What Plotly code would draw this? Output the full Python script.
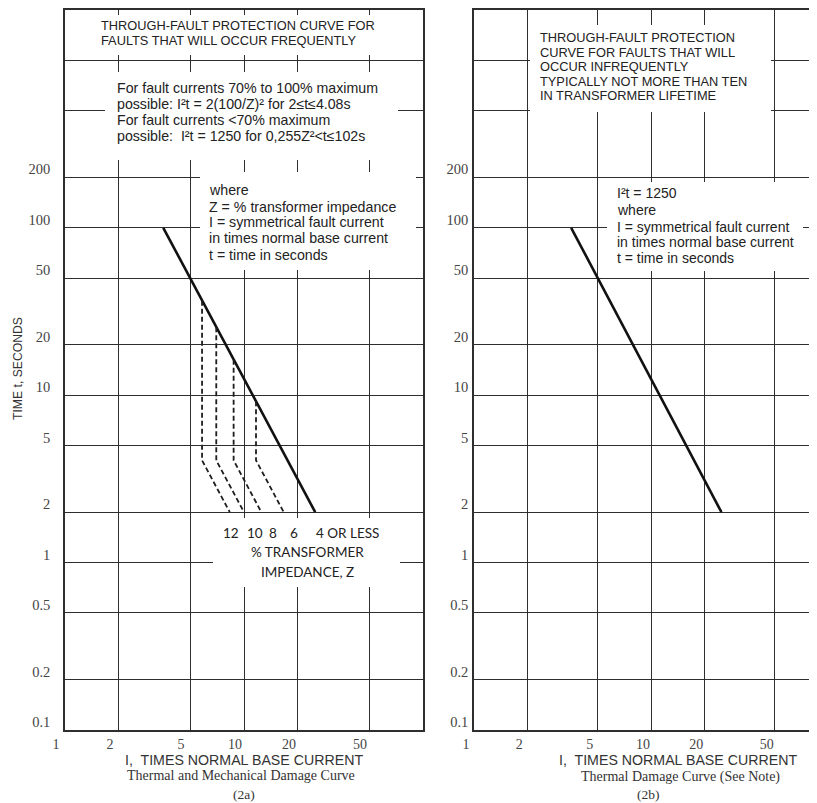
import plotly.graph_objects as go

# ---------------- data ----------------
x_tick_vals = [1, 2, 5, 10, 20, 50, 100]
x_tick_text = ["1", "2", "5", "10", "20", "50", ""]
y_tick_vals = [0.1, 0.2, 0.5, 1, 2, 5, 10, 20, 50, 100, 200, 500, 1000]
y_tick_text = ["0.1", "0.2", "0.5", "1", "2", "5", "10", "20", "50", "100", "200", "", ""]

# I^2 t = 1250 curve (I: times normal base current, t: seconds)
curve_I = [3.54, 25.0]
curve_t = [100.0, 2.0]

# dashed curves per % transformer impedance Z
z_values = [12, 10, 8, 6]
z_I_knee = [5.83, 7.0, 8.75, 11.67]
z_t_top = [36.7, 25.5, 16.3, 9.2]
z_t_knee = [4.08, 4.08, 4.08, 4.08]
z_I_end = [8.33, 10.0, 12.5, 16.67]
z_t_end = [2.0, 2.0, 2.0, 2.0]

left_title_lines = ["THROUGH-FAULT PROTECTION CURVE FOR",
                    "FAULTS THAT WILL OCCUR FREQUENTLY"]
left_formula_lines = ["For fault currents 70% to 100% maximum",
                      "possible: I²t = 2(100/Z)² for 2≤t≤4.08s",
                      "For fault currents <70% maximum",
                      "possible:  I²t = 1250 for 0,255Z²<t≤102s"]
left_where_lines = ["where",
                    "Z = % transformer impedance",
                    "I = symmetrical fault current",
                    "in times normal base current",
                    "t = time in seconds"]
right_title_lines = ["THROUGH-FAULT PROTECTION",
                     "CURVE FOR FAULTS THAT WILL",
                     "OCCUR INFREQUENTLY",
                     "TYPICALLY NOT MORE THAN TEN",
                     "IN TRANSFORMER LIFETIME"]
right_where_lines = ["I²t = 1250",
                     "where",
                     "I = symmetrical fault current",
                     "in times normal base current",
                     "t = time in seconds"]
z_label_text = ["12", "10", "8", "6", "4 OR LESS"]
z_caption_lines = ["% TRANSFORMER", "IMPEDANCE, Z"]

x_title = "I,  TIMES NORMAL BASE CURRENT"
y_title = "TIME t, SECONDS"
left_sub = "Thermal and Mechanical Damage Curve"
right_sub = "Thermal Damage Curve (See Note)"
left_tag = "(2a)"
right_tag = "(2b)"

# ---------------- layout helpers ----------------
# the page body has an 8px margin: the figure starts at (8, 8) of the window
# and runs to the window's right and bottom edges
OFF = 8
W, H = 817 - OFF, 803 - OFF
def px(x):
    return (x - OFF) / W
def py(y):
    return 1 - (y - OFF) / H

GRID = "#2e2e2e"
TXT = "#222222"
SANS = "Liberation Sans, Arial, sans-serif"
SERIF = "Liberation Serif, Times New Roman, serif"

fig = go.Figure()

# solid curves
fig.add_trace(go.Scatter(x=curve_I, y=curve_t, mode="lines",
                         line=dict(color="#111111", width=2.6),
                         xaxis="x", yaxis="y", hoverinfo="skip"))
fig.add_trace(go.Scatter(x=curve_I, y=curve_t, mode="lines",
                         line=dict(color="#111111", width=2.6),
                         xaxis="x2", yaxis="y2", hoverinfo="skip"))
# dashed impedance curves
for i in range(len(z_values)):
    fig.add_trace(go.Scatter(
        x=[z_I_knee[i], z_I_knee[i], z_I_end[i]],
        y=[z_t_top[i], z_t_knee[i], z_t_end[i]],
        mode="lines", line=dict(color="#1e1e1e", width=1.8, dash="5px,3px"),
        xaxis="x", yaxis="y", hoverinfo="skip"))

y_dom = [py(730), py(10)]
axis_common = dict(type="log", showgrid=True, gridcolor=GRID, gridwidth=1.4,
                   showline=True, linecolor=GRID, linewidth=1.5, ticks="",
                   zeroline=False, fixedrange=True, automargin=False)
yfont = dict(family=SERIF, size=14.5, color="#444444")
xfont = dict(family=SERIF, size=14, color="#444444")

right_edge = 817
x2_top = (right_edge - 474) / 177.0  # decades visible in the right panel

fig.update_layout(
    template="none",
    width=W, height=H,
    margin=dict(l=0, r=0, t=0, b=0, pad=0),
    paper_bgcolor="white", plot_bgcolor="white",
    showlegend=False,
    xaxis=dict(axis_common, domain=[px(65), px(423)], range=[0, 2],
               tickmode="array", tickvals=x_tick_vals, ticktext=x_tick_text,
               tickfont=xfont, ticklabelshift=-9, ticklabelstandoff=0,
               mirror=True, anchor="y"),
    yaxis=dict(axis_common, domain=y_dom, range=[-1, 3.301],
               tickmode="array", tickvals=y_tick_vals, ticktext=y_tick_text,
               tickfont=yfont, ticklabelshift=-8, ticklabelstandoff=10,
               mirror=True, anchor="x"),
    xaxis2=dict(axis_common, domain=[px(474), 1.0], range=[0, x2_top],
                tickmode="array", tickvals=x_tick_vals, ticktext=x_tick_text,
                tickfont=xfont, ticklabelshift=-8, ticklabelstandoff=0,
                mirror=True, anchor="y2"),
    yaxis2=dict(axis_common, domain=y_dom, range=[-1, 3.301],
                tickmode="array", tickvals=y_tick_vals, ticktext=y_tick_text,
                tickfont=yfont, ticklabelshift=-8, ticklabelstandoff=1,
                mirror=False, anchor="x2"),
)

# white boxes masking gridlines (they do not overlap any curve)
boxes = [
    (67, 15, 420, 55),    # left title
    (105, 72, 398, 160),  # left formula
    (200, 172, 416, 270), # left where
    (213, 518, 400, 587), # left Z caption
    (530, 25, 771, 112),  # right title
    (607, 182, 803, 271), # right where
]
for (x0, y0, x1, y1) in boxes:
    fig.add_shape(type="rect", xref="paper", yref="paper",
                  x0=px(x0), x1=px(x1), y0=py(y1), y1=py(y0),
                  fillcolor="white", line=dict(width=0), layer="above")

def add_lines(lines, x, ys, size, family=SANS, color=TXT, xanchor="left"):
    for t, y in zip(lines, ys):
        fig.add_annotation(text=t, x=px(x), y=py(y), xref="paper", yref="paper",
                           xanchor=xanchor, yanchor="middle", showarrow=False,
                           font=dict(family=family, size=size, color=color))

add_lines(left_title_lines, 99, [26, 41], 12.8)
add_lines(left_formula_lines, 115, [88, 104, 120, 136], 14.2)
add_lines(left_where_lines, 207, [190, 207, 222, 238, 255], 14.2)
add_lines(right_title_lines, 538, [38, 53, 67, 82, 96], 12.8)
add_lines(right_where_lines, 615, [193, 210, 227, 242, 258], 14.0)

# Z labels
z_label_x = [231, 255, 273, 294, 347]
for t, x in zip(z_label_text, z_label_x):
    fig.add_annotation(text=t, x=px(x), y=py(533), xref="paper", yref="paper",
                       xanchor="center", yanchor="middle", showarrow=False,
                       font=dict(family="Lato, sans-serif", size=13.5, color=TXT))
add_lines(z_caption_lines, 307, [552, 572], 13.5, family="Lato, sans-serif",
          xanchor="center")

# axis titles
fig.add_annotation(text=y_title, x=px(18), y=py(369), xref="paper", yref="paper",
                   textangle=-90, showarrow=False, xanchor="center", yanchor="middle",
                   font=dict(family=SANS, size=12.2, color="#333333"))
add_lines([x_title], 244, [760], 14.2, color="#333333", xanchor="center")
add_lines([x_title], 678, [760], 14.2, color="#333333", xanchor="center")
add_lines([left_sub], 241, [775], 14, family=SERIF, color="#333333", xanchor="center")
add_lines([right_sub], 680, [777], 14, family=SERIF, color="#333333", xanchor="center")
add_lines([left_tag], 244, [794], 13.5, family=SERIF, color="#333333", xanchor="center")
add_lines([right_tag], 648, [794], 13.5, family=SERIF, color="#333333", xanchor="center")

fig.write_html("out.html")
